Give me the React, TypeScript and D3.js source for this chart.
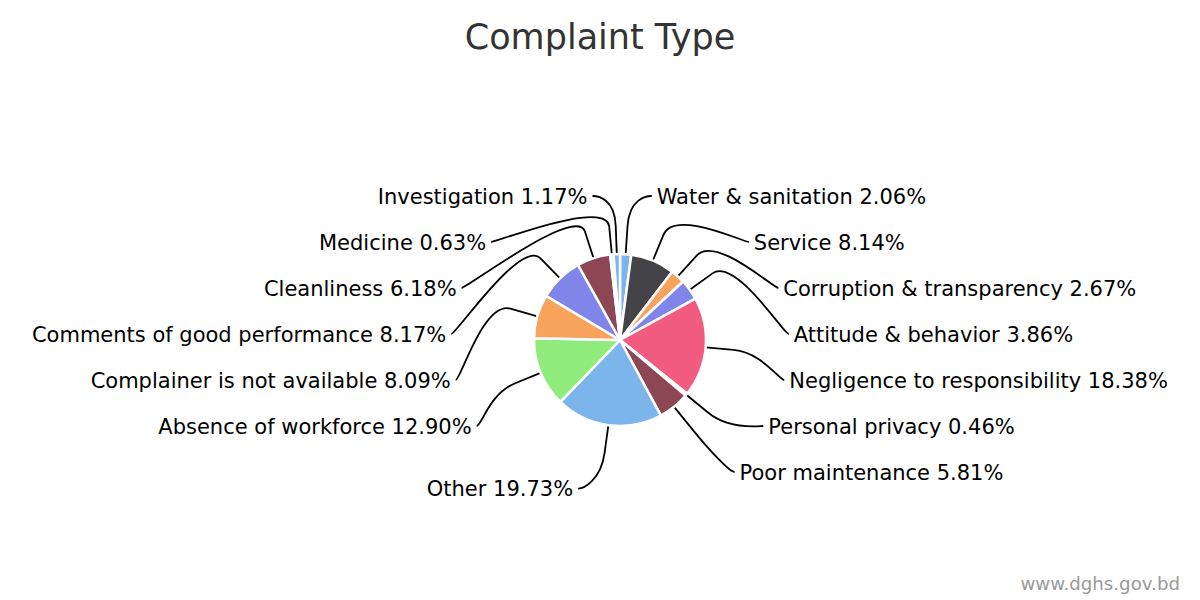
import React from 'react';
import * as d3 from 'd3';

const categories = [
  'Water & sanitation',
  'Service',
  'Corruption & transparency',
  'Attitude & behavior',
  'Negligence to responsibility',
  'Personal privacy',
  'Poor maintenance',
  'Other',
  'Absence of workforce',
  'Complainer is not available',
  'Comments of good performance',
  'Cleanliness',
  'Medicine',
  'Investigation',
];
const values = [2.06, 8.14, 2.67, 3.86, 18.38, 0.46, 5.81, 19.73, 12.9, 8.09, 8.17, 6.18, 0.63, 1.17];
const colors = [
  '#7cb5ec', '#434348', '#f7a35c', '#8085e9', '#f15c80', '#f4f4f4', '#8d4653',
  '#7cb5ec', '#90ed7d', '#f7a35c', '#8085e9', '#8d4653', '#dfeefa', '#7cb5ec',
];
const titleText = 'Complaint Type';
const creditText = 'www.dghs.gov.bd';

const W = 1200;
const H = 600;
const cx = 620;
const cy = 340;
const r = 86;
const labelCy = 343;
const labelR = 147;
const slotH = 46;
const textPad = 27;
const breakOff = 28;
const FONT = '"DejaVu Sans", Verdana, sans-serif';

type Item = {
  i: number;
  mid: number;
  right: boolean;
  natY: number;
  y: number;
  xt: number;
};

export default function App() {
  const pie = d3.pie<number>().sort(null).value((d) => d);
  const arcs = pie(values);
  const arcGen = d3.arc<d3.PieArcDatum<number>>().innerRadius(0).outerRadius(r);

  const items: Item[] = arcs.map((a, i) => {
    const mid = (a.startAngle + a.endAngle) / 2;
    return { i, mid, right: mid < Math.PI, natY: labelCy - labelR * Math.cos(mid), y: 0, xt: 0 };
  });

  const slots: number[] = [];
  for (let p = labelCy - labelR; p <= labelCy + labelR + 1e-6; p += slotH) slots.push(p);

  [true, false].forEach((side) => {
    const pts = items.filter((d) => d.right === side).sort((a, b) => a.natY - b.natY);
    const n = pts.length;
    const ns = slots.length;
    const used = new Array(ns).fill(false);
    let prev = -1;
    const assigned = pts.map((p, j) => {
      let best = 0;
      let bd = Infinity;
      slots.forEach((s, k) => {
        const d = Math.abs(s - p.natY);
        if (d < bd) {
          bd = d;
          best = k;
        }
      });
      const k = Math.max(prev + 1, Math.min(best, ns - (n - j)));
      prev = k;
      used[k] = true;
      return k;
    });
    pts.forEach((p, j) => {
      const k = assigned[j];
      let y = slots[k];
      const nextFree = k + 1 >= ns || !used[k + 1];
      const prevFree = k - 1 >= 0 && !used[k - 1];
      if ((p.natY > y && nextFree) || (p.natY < y && prevFree)) y = p.natY;
      const yForX = k === 0 || k === ns - 1 ? p.natY : y;
      const dy = yForX - labelCy;
      const dx = Math.sqrt(Math.max(0, labelR * labelR - dy * dy)) + textPad;
      p.y = y;
      p.xt = cx + (side ? 1 : -1) * dx;
    });
  });

  const connector = (d: Item) => {
    const sgn = d.right ? 1 : -1;
    const s = Math.sin(d.mid);
    const c = Math.cos(d.mid);
    const ex = cx + r * s;
    const ey = cy - r * c;
    const bx = cx + (r + breakOff) * s;
    const by = cy - (r + breakOff) * c;
    const p = d3.path();
    p.moveTo(d.xt - sgn * 5, d.y);
    p.bezierCurveTo(d.xt - sgn * 10, d.y, 2 * bx - ex, 2 * by - ey, bx, by);
    p.lineTo(ex, ey);
    return p.toString();
  };

  return (
    <svg
      width={W}
      height={H}
      style={{ position: 'absolute', left: 0, top: 0, background: '#fff' }}
      fontFamily={FONT}
    >
      <rect x={0} y={0} width={W} height={H} fill="#fff" />
      <text x={600} y={49} textAnchor="middle" fontSize={35} fill="#333333">
        {titleText}
      </text>
      <g>
        {items.map((d) => (
          <path key={'c' + d.i} d={connector(d)} fill="none" stroke="#000" strokeWidth={1.8} />
        ))}
      </g>
      <g transform={`translate(${cx},${cy})`}>
        {arcs.map((a, i) => (
          <path key={i} d={arcGen(a) || ''} fill={colors[i]} stroke="#fff" strokeWidth={2.5} strokeLinejoin="round" />
        ))}
      </g>
      <g>
        {items.map((d) => (
          <text
            key={'t' + d.i}
            x={d.xt}
            y={d.y}
            dy="0.36em"
            textAnchor={d.right ? 'start' : 'end'}
            fontSize={21}
            fill="#000"
          >
            {`${categories[d.i]} ${values[d.i].toFixed(2)}%`}
          </text>
        ))}
      </g>
      <text x={1180} y={590} textAnchor="end" fontSize={18.2} fill="#999999">
        {creditText}
      </text>
    </svg>
  );
}
